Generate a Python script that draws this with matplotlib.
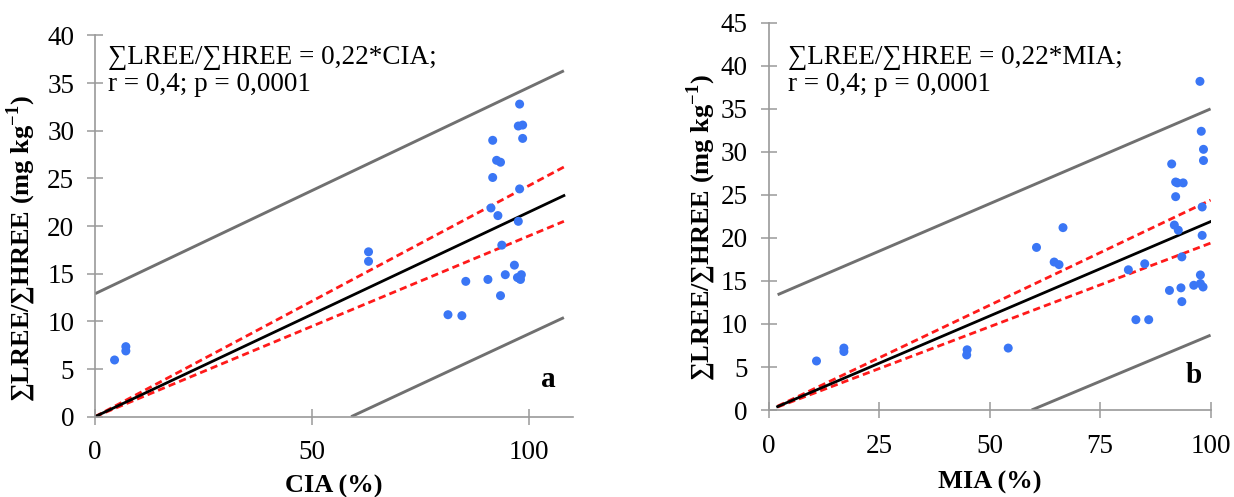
import numpy as np
import matplotlib
matplotlib.use('Agg')
import matplotlib.pyplot as plt

plt.rcParams['font.family'] = ['Liberation Serif', 'DejaVu Serif']
plt.rcParams['mathtext.fontset'] = 'custom'
plt.rcParams['mathtext.rm'] = 'Liberation Serif'
plt.rcParams['mathtext.bf'] = 'Liberation Serif:bold'

# panel a: CIA (%) vs LREE/HREE
cia_x = [4.5, 7.1, 7.1, 63.0, 63.0, 81.3, 84.5, 85.4, 90.5, 91.6, 91.6, 91.2,
         92.5, 93.4, 92.8, 93.7, 93.4, 94.5, 96.6, 97.3, 97.8, 98.2, 98.0,
         97.8, 97.5, 98.5, 98.5, 97.8, 97.5]
cia_y = [5.95, 7.35, 6.9, 17.3, 16.3, 10.7, 10.6, 14.2, 14.4, 29.0, 25.1, 21.9,
         26.9, 26.7, 21.1, 18.0, 12.7, 14.9, 15.9, 14.6, 14.5, 14.9, 14.4,
         32.8, 30.5, 30.6, 29.2, 23.9, 20.5]
cia_line_x = [0, 108]
cia_fit = [0, 23.2]
cia_ci_hi = [0, 26.2]
cia_ci_lo = [0, 20.5]
cia_pi_hi = [12.9, 36.3]
cia_pi_lo_x = [59, 108]
cia_pi_lo = [0, 10.4]

# panel b: MIA (%) vs LREE/HREE
mia_x = [10.8, 17.0, 17.0, 44.8, 44.9, 54.2, 60.6, 64.6, 65.7, 66.6, 81.4, 83.1,
         85.1, 86.0, 90.7, 91.2, 92.1, 92.5, 93.8, 92.1, 91.8, 92.7, 93.3, 93.5,
         93.5, 96.2, 97.7, 98.3, 97.7, 97.6, 97.9, 98.4, 98.4, 98.1, 98.1]
mia_y = [5.7, 7.2, 6.8, 6.4, 7.0, 7.2, 18.9, 17.2, 16.9, 21.2, 16.3, 10.5,
         17.0, 10.5, 13.9, 28.6, 26.5, 26.4, 26.4, 24.8, 21.5, 20.9, 14.2, 12.6,
         17.8, 14.5, 14.7, 14.3, 15.7, 38.2, 32.4, 30.3, 29.0, 23.6, 20.3]
mia_line_x = [2, 100]
mia_fit = [0.4, 21.9]
mia_ci_hi = [0.45, 24.4]
mia_ci_lo = [0.35, 19.4]
mia_pi_hi = [13.4, 35.0]
mia_pi_lo_x = [59.5, 100]
mia_pi_lo = [0, 8.7]

YLABEL = '∑LREE/∑HREE (mg kg$^{\\mathbf{-1}}$)'
DOT = '#3a76f5'
AXC = '#9a9a9a'


def draw_panel(ax, x, y, lx, fit, cihi, cilo, pihi, plx, pilo,
               xlim, ylim, xticks, yticks, xlabel, eq, eq_pos, letter, letter_pos):
    ax.plot(lx, pihi, color='#707070', lw=2.1, solid_capstyle='butt')
    ax.plot(plx, pilo, color='#707070', lw=2.1, solid_capstyle='butt')
    ax.plot(lx, cihi, color='#ff1a1a', lw=2, ls=(0, (2.6, 1.5)))
    ax.plot(lx, cilo, color='#ff1a1a', lw=2, ls=(0, (2.6, 1.5)))
    ax.plot(lx, fit, color='black', lw=2)
    ax.scatter(x, y, s=42, color=DOT, edgecolors='none', zorder=5)

    ax.set_xlim(*xlim)
    ax.set_ylim(*ylim)
    ax.set_xticks(xticks)
    ax.set_yticks(yticks)
    for s in ['top', 'right']:
        ax.spines[s].set_visible(False)
    for s in ['left', 'bottom']:
        ax.spines[s].set_color(AXC)
        ax.spines[s].set_linewidth(1.2)
    ax.tick_params(direction='inout', length=12, width=1.1, color=AXC,
                   labelsize=19.5)
    ax.tick_params(axis='x', pad=11)
    ax.tick_params(axis='y', pad=9)
    ax.set_xlabel(xlabel, fontsize=19, fontweight='bold')
    ax.set_ylabel(YLABEL, fontsize=19, fontweight='bold')
    ax.text(eq_pos[0], eq_pos[1], eq, fontsize=19.5, va='top', ha='left',
            linespacing=1.1)
    ax.text(letter_pos[0], letter_pos[1], letter, fontsize=21,
            fontweight='bold', ha='center', va='baseline')


fig = plt.figure(figsize=(12.34, 4.97), dpi=100)
ax1 = fig.add_axes([0.077, 0.1616, 0.387, 0.767])
ax2 = fig.add_axes([0.623, 0.175, 0.358, 0.779])

draw_panel(ax1, cia_x, cia_y, cia_line_x, cia_fit, cia_ci_hi, cia_ci_lo,
           cia_pi_hi, cia_pi_lo_x, cia_pi_lo,
           (0, 110), (0, 40), [0, 50, 100], np.arange(0, 41, 5), 'CIA (%)',
           '∑LREE/∑HREE = 0,22*CIA;\nr = 0,4; p = 0,0001', (3.0, 39.0),
           'a', (104.4, 3.1))
draw_panel(ax2, mia_x, mia_y, mia_line_x, mia_fit, mia_ci_hi, mia_ci_lo,
           mia_pi_hi, mia_pi_lo_x, mia_pi_lo,
           (0, 100), (0, 45), [0, 25, 50, 75, 100], np.arange(0, 46, 5), 'MIA (%)',
           '∑LREE/∑HREE = 0,22*MIA;\nr = 0,4; p = 0,0001', (4.3, 42.4),
           'b', (96.2, 3.1))

ax1.yaxis.set_label_coords(-0.119, 0.44)
ax2.yaxis.set_label_coords(-0.115, 0.47)
ax1.xaxis.set_label_coords(0.5, -0.152)
ax2.xaxis.set_label_coords(0.5, -0.156)

fig.savefig('out.png', dpi=100)
